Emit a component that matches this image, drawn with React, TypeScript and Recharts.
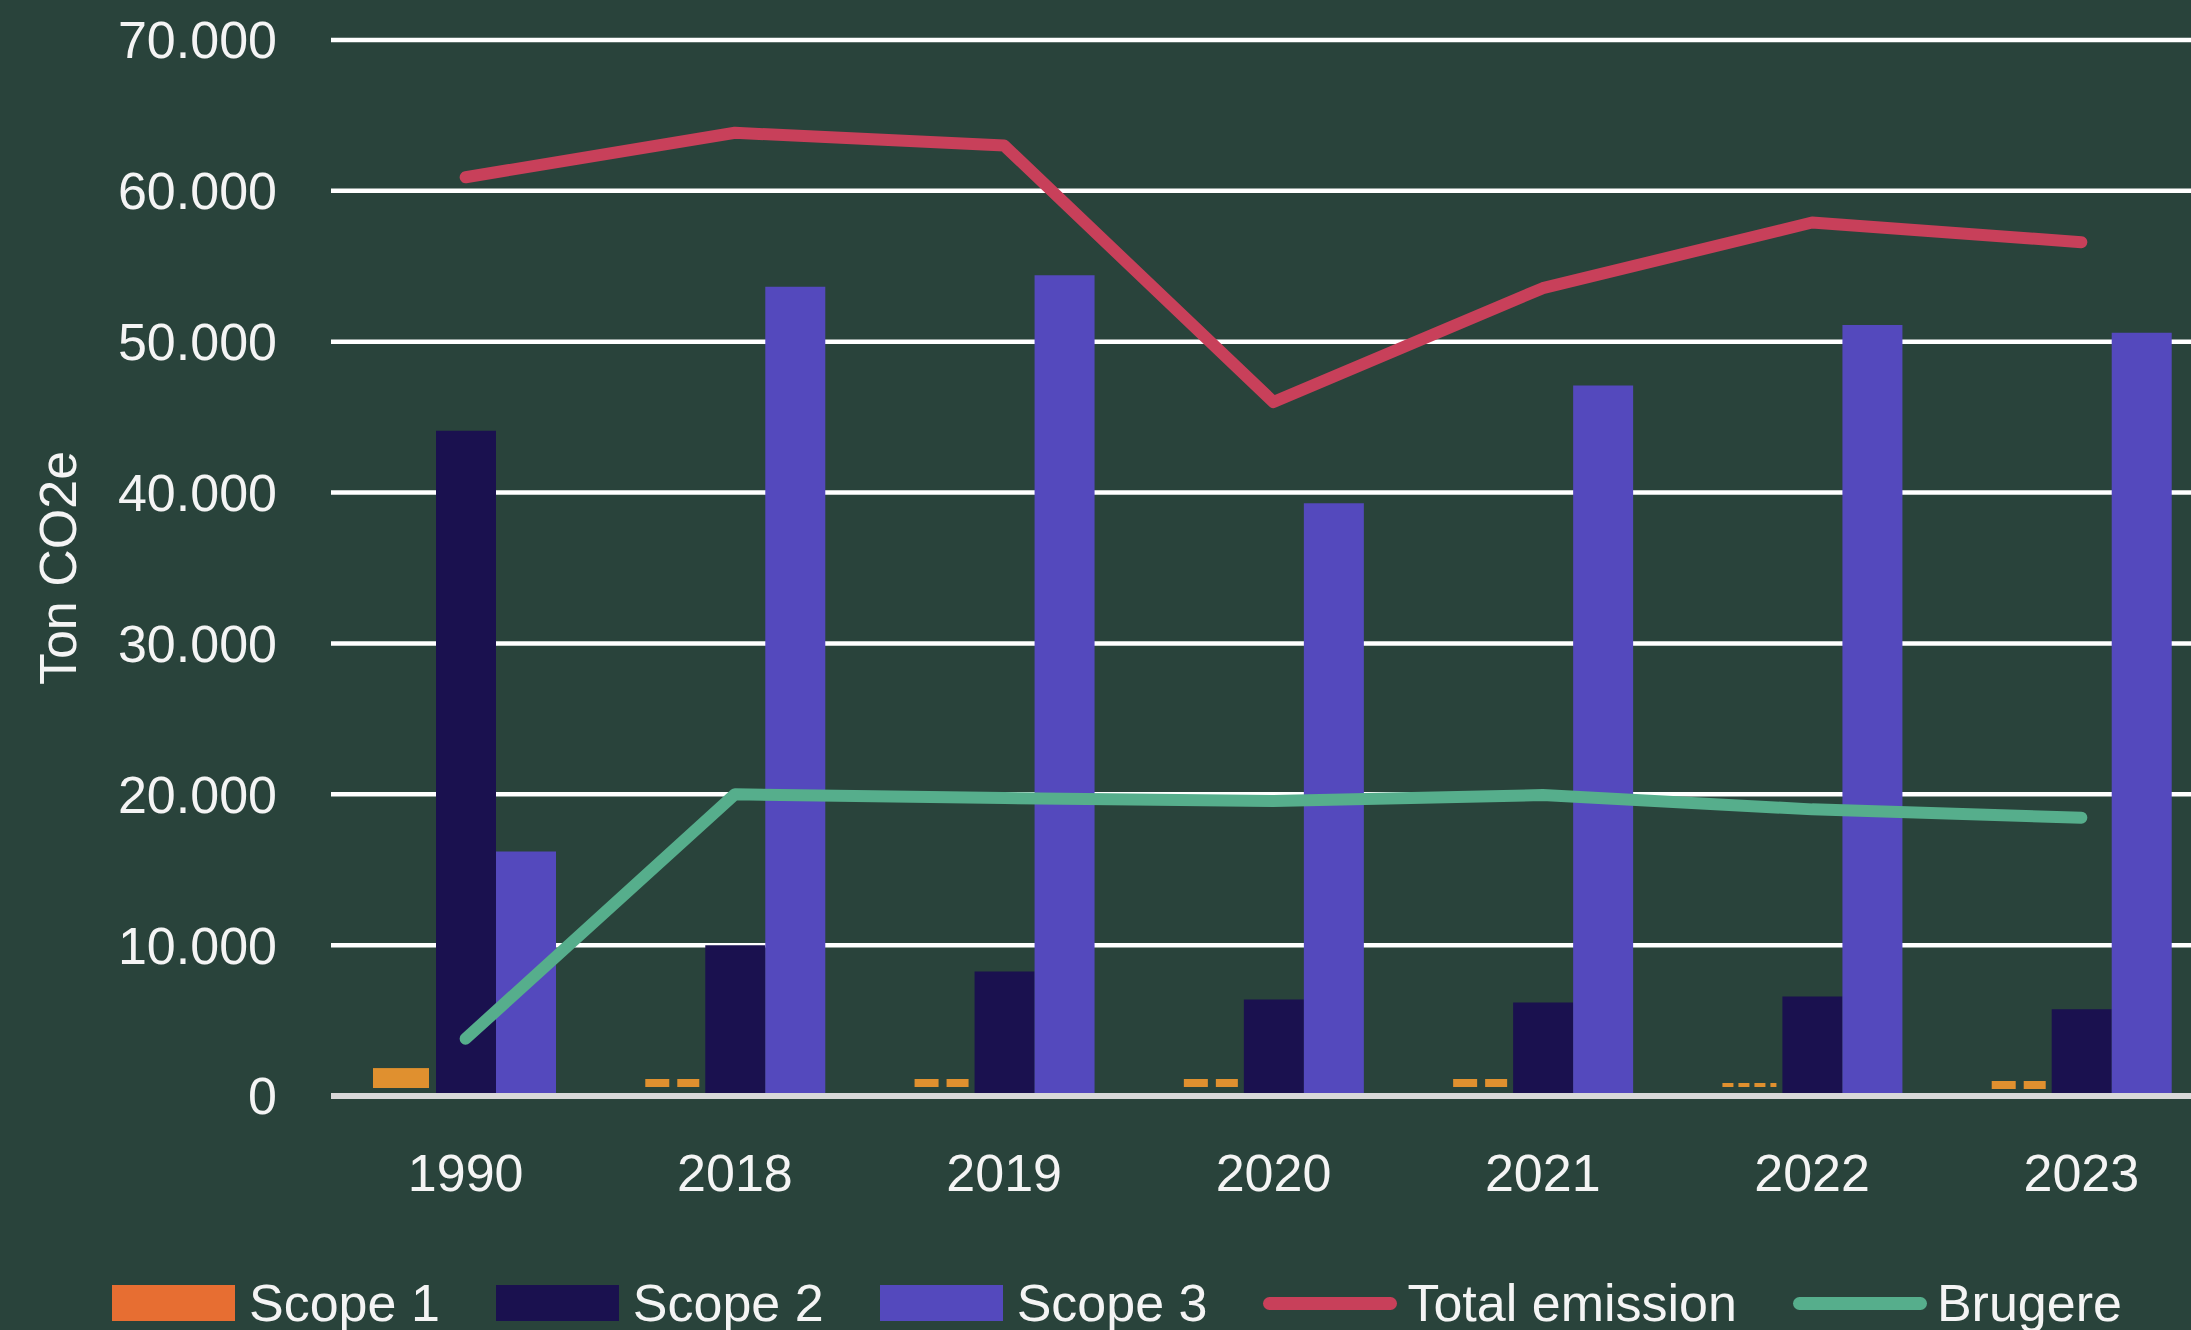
import { ComposedChart, Bar, Line, XAxis, YAxis, CartesianGrid } from "recharts"

const years = ["1990", "2018", "2019", "2020", "2021", "2022", "2023"]
const scope1 = [1850, 1130, 1130, 1130, 1130, 860, 1000]
const scope2 = [44100, 10000, 8250, 6400, 6200, 6600, 5750]
const scope3 = [16200, 53650, 54400, 39300, 47100, 51100, 50600]
const totalEmission = [60900, 63850, 63000, 46000, 53550, 57900, 56600]
const brugere = [3800, 20000, 19750, 19550, 19950, 19000, 18450]
const yTicks = [0, 10000, 20000, 30000, 40000, 50000, 60000, 70000]

const BG = "#29433b"
const TEXT = "#f4f4f4"
const FONT = "'Liberation Sans', Arial, sans-serif"

const legendItems = [
  { name: "Scope 1", color: "#e76e32", kind: "bar" },
  { name: "Scope 2", color: "#1a114f", kind: "bar" },
  { name: "Scope 3", color: "#5449bd", kind: "bar" },
  { name: "Total emission", color: "#c8405a", kind: "line" },
  { name: "Brugere", color: "#56ae8c", kind: "line" },
]

const data = years.map((year, i) => ({
  year,
  scope1: scope1[i],
  scope2: scope2[i],
  scope3: scope3[i],
  total: totalEmission[i],
  brugere: brugere[i],
}))

const fmt = (v: number) => String(v).replace(/\B(?=(\d{3})+(?!\d))/g, ".")

// scope 1 is drawn like the excel pattern: solid for 1990, dashed tops for the small ones
const Scope1Shape = (props: any) => {
  const { x, y, width, height, index } = props
  if (index === 0) {
    return <rect x={x - 3} y={y} width={width - 4} height={Math.max(height - 8, 0)} fill="#e0902f" />
  }
  const thick = height > 14 ? 8 : 4
  return (
    <line
      x1={x}
      x2={x + width - 6}
      y1={y + thick / 2}
      y2={y + thick / 2}
      stroke="#e0902f"
      strokeWidth={thick}
      strokeDasharray={thick === 8 ? "24 8" : "11 5"}
    />
  )
}

const YLabel = (props: any) => {
  const vb = props.viewBox || { x: 0, y: 40, width: 331, height: 1056 }
  const cx = 58
  const cy = vb.y + vb.height / 2
  return (
    <text
      x={cx}
      y={cy}
      transform={`rotate(-90, ${cx}, ${cy})`}
      textAnchor="middle"
      dominantBaseline="central"
      fill={TEXT}
      fontSize={52}
      fontFamily={FONT}
    >
      Ton CO2e
    </text>
  )
}

export default function App() {
  return (
    <div
      style={{
        position: "absolute",
        left: 0,
        top: 0,
        width: 2191,
        height: 1330,
        overflow: "hidden",
        background: BG,
        fontFamily: FONT,
      }}
    >
      <ComposedChart
        width={2216}
        height={1330}
        data={data}
        margin={{ top: 40, right: 0, left: 0, bottom: 204 }}
        barSize={60}
        barGap={0}
      >
        <CartesianGrid horizontal vertical={false} stroke="#ffffff" strokeWidth={4.5} />
        <XAxis
          dataKey="year"
          height={30}
          axisLine={{ stroke: "#d9d9d9", strokeWidth: 6 }}
          tickLine={false}
          tickSize={0}
          tickMargin={58}
          tick={{ fill: TEXT, fontSize: 52, fontFamily: FONT }}
        />
        <YAxis
          width={331}
          domain={[0, 70000]}
          ticks={yTicks}
          tickFormatter={fmt}
          axisLine={false}
          tickLine={false}
          tickSize={0}
          tickMargin={54}
          tick={{ fill: TEXT, fontSize: 52, fontFamily: FONT }}
          label={<YLabel />}
        />
        <Bar dataKey="scope1" name="Scope 1" fill="#e0902f" shape={<Scope1Shape />} isAnimationActive={false} />
        <Bar dataKey="scope2" name="Scope 2" fill="#1a114f" isAnimationActive={false} />
        <Bar dataKey="scope3" name="Scope 3" fill="#5449bd" isAnimationActive={false} />
        <Line
          dataKey="total"
          name="Total emission"
          stroke="#c8405a"
          strokeWidth={12}
          strokeLinecap="round"
          strokeLinejoin="round"
          dot={false}
          activeDot={false}
          isAnimationActive={false}
        />
        <Line
          dataKey="brugere"
          name="Brugere"
          stroke="#56ae8c"
          strokeWidth={12}
          strokeLinecap="round"
          strokeLinejoin="round"
          dot={false}
          activeDot={false}
          isAnimationActive={false}
        />
      </ComposedChart>

      {/* Legend */}
      <div
        style={{
          position: "absolute",
          left: 112,
          top: 1274,
          display: "flex",
          alignItems: "center",
          whiteSpace: "nowrap",
        }}
      >
        {legendItems.map((item) => (
          <div key={item.name} style={{ display: "flex", alignItems: "center", marginRight: 56 }}>
            {item.kind === "bar" ? (
              <div style={{ width: 123, height: 36, background: item.color, marginRight: 14 }} />
            ) : (
              <div
                style={{
                  width: 134,
                  height: 13,
                  borderRadius: 7,
                  background: item.color,
                  marginRight: 10,
                }}
              />
            )}
            <span style={{ color: TEXT, fontSize: 52, lineHeight: "58px" }}>{item.name}</span>
          </div>
        ))}
      </div>
    </div>
  )
}
